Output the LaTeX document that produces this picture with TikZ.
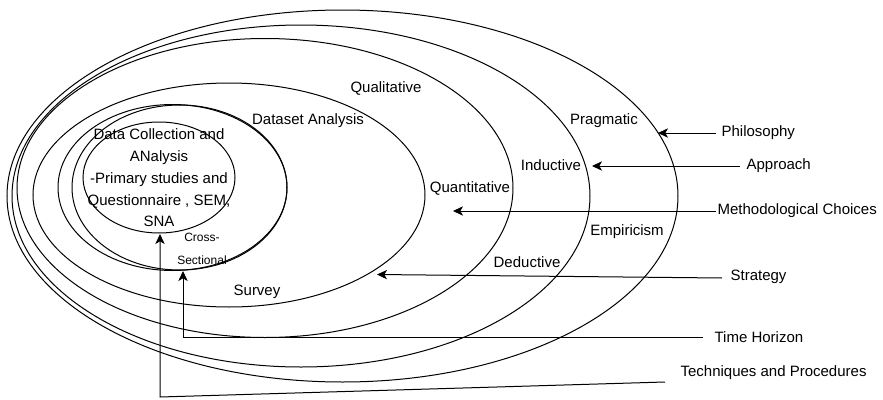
\documentclass[tikz,border=0pt]{standalone}
\usepackage{fontspec}
\setmainfont{Liberation Sans}
\usetikzlibrary{arrows.meta,shapes.geometric}
\begin{document}
\begin{tikzpicture}[x=0.75pt,y=-0.75pt,
  layer/.style={draw=black,line width=0.75pt},
  lbl/.style={font=\fontsize{11.25}{13}\selectfont,inner sep=1pt},
  small/.style={font=\fontsize{9}{17}\selectfont,inner sep=1pt,align=center},
  arr/.style={draw=black,line width=0.75pt,-{Stealth[length=7.5pt,width=7pt,inset=2pt]}},
  wire/.style={draw=black,line width=0.75pt}]
\useasboundingbox (0,0) rectangle (883,400);
\fill[white] (0,0) rectangle (883,400);

% nested layers, outermost first
\draw[layer] (342.5,196) ellipse [x radius=335.5, y radius=186];
\draw[layer] (301,196) ellipse [x radius=289, y radius=171];
\draw[layer] (265,188) ellipse [x radius=248, y radius=149.5];
\draw[layer] (229,195) ellipse [x radius=196, y radius=112];
\draw[layer] (172.5,187.5) ellipse [x radius=114.5, y radius=83];
\draw[layer] (179.5,187.5) ellipse [x radius=107.5, y radius=82.5];
\draw[layer] (159,177.5) ellipse [x radius=76, y radius=55.5];

% core text
\node[font=\fontsize{11.25}{16.3}\selectfont,align=center,inner sep=0pt] (core) at (159,178)
  {Data Collection and\\ANalysis\\-Primary studies and\\Questionnaire , SEM,\\SNA};

% labels inside the layers
\node[lbl] (qual) at (386,88) {Qualitative};
\node[lbl] (dsa) at (308,121) {Dataset Analysis};
\node[lbl] (prag) at (604,121) {Pragmatic};
\node[lbl] (ind) at (551,165) {Inductive};
\node[lbl] (quant) at (470,188) {Quantitative};
\node[lbl] (emp) at (627,232) {Empiricism};
\node[lbl] (ded) at (527,262) {Deductive};
\node[lbl] (surv) at (257,292) {Survey};
\node[small] (cross) at (202,249) {Cross-\\Sectional};

% layer names on the right
\node[lbl,anchor=west] (philo) at (720,133) {Philosophy};
\node[lbl,anchor=west] (appr) at (745,166) {Approach};
\node[lbl,anchor=west] (meth) at (716,211) {Methodological Choices};
\node[lbl,anchor=west] (strat) at (729,277) {Strategy};
\node[lbl,anchor=west] (time) at (713,337) {Time Horizon};
\node[lbl,anchor=west] (tech) at (679,373) {Techniques and Procedures};

% arrow end points on the layers
\coordinate (tPhilo) at (658,133);
\coordinate (tAppr) at (592,166);
\coordinate (tMeth) at (453,211);
\coordinate (tStrat) at (377,274.5);
\coordinate (tTime) at (183,271);
\coordinate (tTech) at (160,234);
\coordinate (sPhilo) at (716,133);
\coordinate (sAppr) at (740,166);
\coordinate (sStrat) at (722,278);
\coordinate (sTime) at (703,337);
\coordinate (cTime) at (183,337);
\coordinate (sTech) at (665,382);
\coordinate (cTech) at (160,397);

\draw[arr] (sPhilo) -- (tPhilo);
\draw[arr] (sAppr) -- (tAppr);
\draw[arr] (meth.west) -- (tMeth);
\draw[arr] (sStrat) -- (tStrat);
\draw[arr] (sTime) -- (cTime) -- (tTime);
\draw[arr] (sTech) -- (cTech) -- (tTech);
\end{tikzpicture}
\end{document}
